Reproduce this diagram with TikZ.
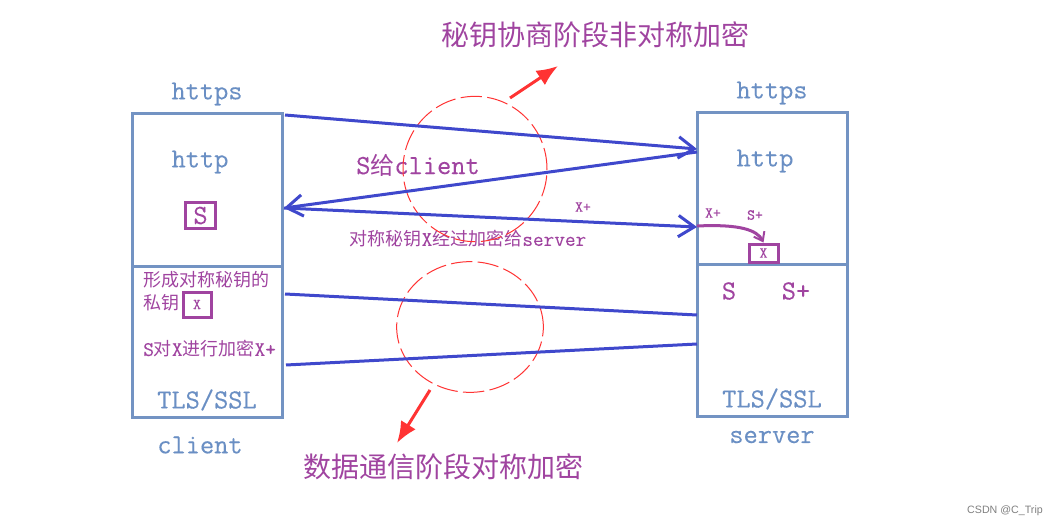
\documentclass[tikz,border=0pt]{standalone}
\usepackage{fontspec}
\setmainfont{Latin Modern Mono}[Scale=1.15,FakeBold=0.2]
\newfontfamily\cjk{Noto Sans CJK SC}
\newfontfamily\wmfont{Liberation Sans}
\usetikzlibrary{arrows.meta}
\definecolor{boxblue}{HTML}{7393C3}
\definecolor{txtblue}{HTML}{6A8FC4}
\definecolor{purp}{HTML}{A044A0}
\definecolor{lineblue}{HTML}{3F48CC}
\definecolor{redc}{HTML}{FF3333}
\newcommand\zh[1]{{\cjk #1}}
\begin{document}
\begin{tikzpicture}[x=0.75pt,y=-0.75pt,
  box/.style={draw=boxblue,line width=2.25pt,minimum width=112.5pt,inner sep=0pt},
  lbl/.style={text=txtblue,font=\fontsize{18}{20}\selectfont,inner sep=0pt},
  plbl/.style={text=purp,font=\fontsize{18}{20}\selectfont,inner sep=0pt},
  small/.style={text=purp,font=\fontsize{13.5}{15}\selectfont,inner sep=0pt},
  tiny/.style={text=purp,font=\fontsize{10}{11}\selectfont,inner sep=0pt},
  title/.style={text=purp,font=\fontsize{21}{24}\selectfont\cjk,inner sep=0pt},
  pbox/.style={draw=purp,line width=2.25pt,inner sep=0pt},
  conn/.style={draw=lineblue,line width=2.25pt},
  barb/.style={-{Straight Barb[length=12pt,width=16pt,line width=2.25pt]}},
  circ/.style={draw=redc,line width=0.75pt,dash pattern=on 16pt off 4pt},
  redarrow/.style={draw=redc,fill=redc,line width=2.25pt,-{Latex[length=16pt,width=13pt]}}
]
\useasboundingbox[fill=white] (0,0) rectangle (1058,528);

% boxes
\node[box,minimum height=114pt] (ctop) at (207,190) {};
\node[box,minimum height=113.25pt] (cbot) at (207,341.5) {};
\node[box,minimum height=113.25pt] (stop) at (772,188.5) {};
\node[box,minimum height=114pt] (sbot) at (772,340) {};

% labels
\node[lbl] (chttps) at (207,94) {https};
\node[lbl] (shttps) at (772,93) {https};
\node[lbl] (chttp) at (200,162) {http};
\node[lbl] (shttp) at (765,161) {http};
\node[lbl] (ctls) at (207,400) {TLS/SSL};
\node[lbl] (stls) at (772,399) {TLS/SSL};
\node[lbl] (cname) at (200,445) {client};
\node[lbl] (sname) at (772,437) {server};

% client top S box
\node[pbox,plbl,minimum width=23pt,minimum height=20pt] (cS) at (200.5,215.5) {S};

% client bottom texts
\node[small,anchor=west] (t1) at (143,280) {\zh{形成对称秘钥的}};
\node[small,anchor=west] (t2) at (143,303) {\zh{私钥}};
\node[pbox,tiny,minimum width=21pt,minimum height=18.75pt] (cX) at (197,304.5) {X};
\node[small,anchor=west] (t3) at (143,349) {S\zh{对}X\zh{进行加密}X+};

% server texts
\node[plbl] (sS) at (729,291) {S};
\node[plbl] (sSp) at (796,291) {S+};
\node[tiny] (sXp) at (713,213) {X+};
\node[tiny] (sSp2) at (755,215) {S+};
\node[pbox,tiny,minimum width=21.75pt,minimum height=13.5pt] (sX) at (763.5,253) {X};

% connector texts
\node[plbl] (sgive) at (418,165) {S\zh{给}client};
\node[tiny] (xplus) at (583,207) {X+};
\node[small] (sym) at (468,239) {\zh{对称秘钥}X\zh{经过加密给}server};

% titles
\node[title] (ttop) at (595,35) {秘钥协商阶段非对称加密};
\node[title] (tbot) at (443,467) {数据通信阶段对称加密};

% circles
\draw[circ] (475,169) ellipse [x radius=54pt, y radius=54.5pt];
\draw[circ] (470,327) ellipse [x radius=55pt, y radius=49pt];

% coordinates for connectors
\coordinate (a1s) at (285,115);
\coordinate (a1e) at (697,149);
\coordinate (a2s) at (697,152);
\coordinate (a2e) at (284,208);
\coordinate (a3s) at (284,208);
\coordinate (a3e) at (697,227);
\coordinate (l1s) at (285,294);
\coordinate (l1e) at (697,315);
\coordinate (l2s) at (286,365);
\coordinate (l2e) at (697,344);

\draw[conn,barb] (a1s) -- (a1e);
\draw[conn,barb] (a2s) -- (a2e);
\draw[conn,barb] (a3s) -- (a3e);
\draw[conn] (l1s) -- (l1e);
\draw[conn] (l2s) -- (l2e);

% purple curved arrow
\coordinate (pc) at (697,226);
\draw[draw=purp,line width=2.25pt,-{Straight Barb[length=6pt,width=9pt,line width=1.5pt]}] (pc) .. controls (740,224) and (757,230) .. (sX.north);

% red arrows
\coordinate (r1s) at (510,98);
\coordinate (r1e) at (558,66);
\coordinate (r2s) at (430,390);
\coordinate (r2e) at (397,443);
\draw[redarrow] (r1s) -- (r1e);
\draw[redarrow] (r2s) -- (r2e);

% watermark
\node[text=gray,font=\wmfont\fontsize{8}{9}\selectfont,inner sep=0pt] (wm) at (1005,511) {CSDN @C\_Trip};
\end{tikzpicture}
\end{document}
